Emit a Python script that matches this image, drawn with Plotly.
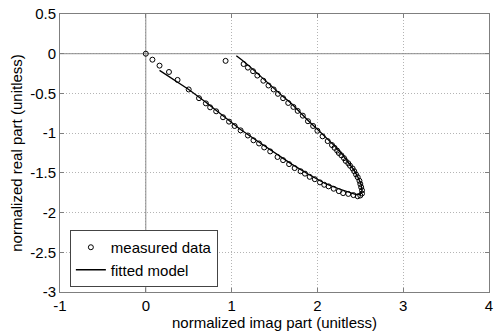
import plotly.graph_objects as go

# Measured response (imag part on x, real part on y), normalized
meas_imag = [0.00, 0.077, 0.16, 0.27, 0.37, 0.50, 0.62, 0.70, 0.75, 0.82, 0.90, 0.97,
             1.035, 1.105, 1.19, 1.255, 1.32, 1.38, 1.45, 1.535, 1.60, 1.67, 1.735,
             1.805, 1.855, 1.91, 1.97, 2.03, 2.08, 2.13, 2.19, 2.25, 2.30, 2.36, 2.42,
             2.47, 2.50, 2.52, 2.52, 2.51, 2.50, 2.49, 2.47, 2.45, 2.43, 2.41, 2.38,
             2.36, 2.33, 2.31, 2.28, 2.25, 2.23, 2.20, 2.17, 2.12, 2.06, 2.00, 1.95,
             1.89, 1.83, 1.77, 1.72, 1.66, 1.60, 1.54, 1.49, 1.43, 1.37, 1.30, 1.25,
             1.19, 1.14, 0.93]
meas_real = [0.00, -0.075, -0.15, -0.23, -0.33, -0.45, -0.56, -0.625, -0.675, -0.725,
             -0.80, -0.855, -0.91, -0.965, -1.03, -1.09, -1.13, -1.18, -1.23, -1.30,
             -1.34, -1.39, -1.44, -1.48, -1.51, -1.55, -1.58, -1.62, -1.65, -1.67,
             -1.70, -1.73, -1.755, -1.765, -1.78, -1.795, -1.785, -1.76, -1.72, -1.68,
             -1.64, -1.60, -1.555, -1.52, -1.48, -1.445, -1.41, -1.38, -1.35, -1.315,
             -1.28, -1.25, -1.22, -1.185, -1.15, -1.10, -1.04, -0.97, -0.91, -0.85,
             -0.78, -0.72, -0.67, -0.62, -0.56, -0.505, -0.45, -0.40, -0.34, -0.275,
             -0.22, -0.175, -0.13, -0.09]

# Fitted model curve
fit_imag = [0.16, 0.30, 0.50, 0.70, 0.90, 1.10, 1.30, 1.50, 1.70, 1.90, 2.10, 2.25,
            2.37, 2.45, 2.50, 2.52, 2.51, 2.48, 2.43, 2.37, 2.30, 2.20, 2.10, 2.00,
            1.90, 1.80, 1.70, 1.60, 1.50, 1.40, 1.30, 1.20, 1.12, 1.055]
fit_real = [-0.21, -0.31, -0.45, -0.61, -0.78, -0.95, -1.10, -1.25, -1.39, -1.52,
            -1.64, -1.70, -1.75, -1.775, -1.77, -1.73, -1.65, -1.57, -1.47, -1.38,
            -1.28, -1.16, -1.05, -0.95, -0.85, -0.74, -0.63, -0.54, -0.44, -0.34,
            -0.24, -0.15, -0.08, -0.025]

x_ticks = [-1, 0, 1, 2, 3, 4]
y_ticks = [0.5, 0, -0.5, -1, -1.5, -2, -2.5, -3]

font = dict(family="Liberation Sans, Arial, sans-serif", size=15, color="black")

fig = go.Figure()

# zero reference lines
fig.add_trace(go.Scatter(x=[0, 0], y=[-3, 0.5], mode="lines",
                         line=dict(color="#8c8c8c", width=1), showlegend=False,
                         hoverinfo="skip"))
fig.add_trace(go.Scatter(x=[-1, 4], y=[0, 0], mode="lines",
                         line=dict(color="#8c8c8c", width=1), showlegend=False,
                         hoverinfo="skip"))

fig.add_trace(go.Scatter(x=meas_imag, y=meas_real, mode="markers",
                         name="measured data",
                         marker=dict(symbol="circle-open", size=5,
                                     color="black", line=dict(width=1, color="black"))))
fig.add_trace(go.Scatter(x=fit_imag, y=fit_real, mode="lines", name="fitted model",
                         line=dict(color="black", width=1.3)))

axis_common = dict(
    showgrid=True, gridcolor="#b4b4b4", griddash="1px,2px", gridwidth=1,
    zeroline=False, showline=True, linecolor="#7f7f7f", linewidth=1,
    mirror="ticks", ticks="inside", ticklen=4, tickcolor="#7f7f7f",
    tickfont=font,
)

fig.update_layout(
    width=498, height=334,
    margin=dict(l=60, r=5, t=12, b=42),
    paper_bgcolor="white", plot_bgcolor="white",
    font=font,
    xaxis=dict(range=[-1, 4], tickvals=x_ticks,
               ticktext=[str(v) for v in x_ticks],
               title=dict(text="normalized imag part (unitless)", font=font, standoff=1),
               **axis_common),
    yaxis=dict(range=[-3, 0.5], tickvals=y_ticks,
               ticktext=[("%g" % v) for v in y_ticks],
               title=dict(text="normalized real part (unitless)", font=font, standoff=3),
               **axis_common),
    legend=dict(x=0.023, y=0.018, xanchor="left", yanchor="bottom",
                bgcolor="white", bordercolor="#444444", borderwidth=1,
                font=font, tracegroupgap=0, itemwidth=30),
    showlegend=True,
)

fig.write_html("out.html")
